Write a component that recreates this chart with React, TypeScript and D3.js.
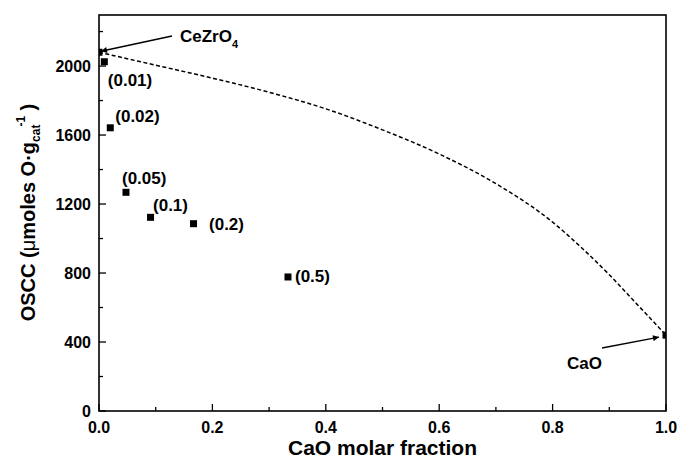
import React from "react";
import * as d3 from "d3";

// Samples: CaO content label, CaO molar fraction (x), OSCC (y)
const sampleLabels = ["(0.01)", "(0.02)", "(0.05)", "(0.1)", "(0.2)", "(0.5)"];
const sampleX = [0.0094, 0.0199, 0.0476, 0.0909, 0.1667, 0.3333];
const sampleY = [2025, 1642, 1268, 1123, 1086, 777];

// End members
const endLabels = ["CeZrO4", "CaO"];
const endX = [0, 1.0];
const endY = [2080, 440];

// Dashed curve
const curveX = [0, 0.1, 0.2, 0.3, 0.4, 0.5, 0.6, 0.7, 0.8, 0.85, 0.9, 0.95, 1.0];
const curveY = [2080, 2005, 1930, 1848, 1752, 1630, 1490, 1318, 1095, 950, 790, 615, 440];

const xTicks = [0, 0.2, 0.4, 0.6, 0.8, 1.0];
const xMinor = [0.1, 0.3, 0.5, 0.7, 0.9];
const yTicks = [0, 400, 800, 1200, 1600, 2000];
const yMinor = [200, 600, 1000, 1400, 1800, 2200];

const W = 680, H = 462;
const M = { left: 99, right: 666, top: 15, bottom: 411 };
const FONT = "'Liberation Sans', Arial, Helvetica, sans-serif";

// label offsets in px relative to data point
const labelOffsets: [number, number][] = [
  [3.5, 24], [5, -5.5], [-4, -8], [2.5, -6], [15.5, 6.5], [7, 5],
];

export default function App() {
  const x = d3.scaleLinear().domain([0, 1]).range([M.left, M.right]);
  const y = d3.scaleLinear().domain([0, 2296]).range([M.bottom, M.top]);
  const line = d3
    .line<number>()
    .x((_, i) => x(curveX[i]))
    .y((d) => y(d))
    .curve(d3.curveMonotoneX);
  const pathD = line(curveY) || "";
  const ms = 7;

  const ceX = x(endX[0]), ceY = y(endY[0]);
  const caX = x(endX[1]), caY = y(endY[1]);

  return (
    <svg
      width={W}
      height={H}
      style={{ position: "absolute", left: 0, top: 0, background: "#fff" }}
      fontFamily={FONT}
      fontWeight="bold"
    >
      <defs>
        <clipPath id="plotclip">
          <rect x={M.left} y={M.top} width={M.right - M.left} height={M.bottom - M.top} />
        </clipPath>
        <marker id="arrow" viewBox="0 0 10 10" refX="10" refY="5" markerWidth="9" markerHeight="6" orient="auto" markerUnits="userSpaceOnUse">
          <path d="M0,0 L10,5 L0,10 z" fill="#000" />
        </marker>
      </defs>
      <rect width={W} height={H} fill="#fff" />

      {/* dashed curve */}
      <path d={pathD} fill="none" stroke="#000" strokeWidth={1.5} strokeDasharray="4,2.5" />

      {/* markers */}
      <g clipPath="url(#plotclip)">
        {sampleX.map((v, i) => (
          <rect key={i} x={x(v) - ms / 2} y={y(sampleY[i]) - ms / 2} width={ms} height={ms} fill="#000" />
        ))}
        {endX.map((v, i) => (
          <rect key={"e" + i} x={x(v) - ms / 2} y={y(endY[i]) - ms / 2} width={ms} height={ms} fill="#000" />
        ))}
      </g>

      {/* frame */}
      <rect x={M.left} y={M.top} width={M.right - M.left} height={M.bottom - M.top} fill="none" stroke="#000" strokeWidth={1.6} />

      {/* x ticks */}
      {xTicks.map((t) => (
        <g key={"xt" + t}>
          <line x1={x(t)} x2={x(t)} y1={M.bottom} y2={M.bottom - 7} stroke="#000" strokeWidth={1.3} />
          <text x={x(t)} y={433} fontSize={16} textAnchor="middle">{t.toFixed(1)}</text>
        </g>
      ))}
      {xMinor.map((t) => (
        <line key={"xm" + t} x1={x(t)} x2={x(t)} y1={M.bottom} y2={M.bottom - 4} stroke="#000" strokeWidth={1.3} />
      ))}

      {/* y ticks */}
      {yTicks.map((t) => (
        <g key={"yt" + t}>
          <line x1={M.left} x2={M.left + 7} y1={y(t)} y2={y(t)} stroke="#000" strokeWidth={1.3} />
          <text x={91} y={y(t)} dy="0.36em" fontSize={16} textAnchor="end">{t}</text>
        </g>
      ))}
      {yMinor.map((t) => (
        <line key={"ym" + t} x1={M.left} x2={M.left + 4} y1={y(t)} y2={y(t)} stroke="#000" strokeWidth={1.3} />
      ))}

      {/* axis titles */}
      <text x={(M.left + M.right) / 2} y={455} fontSize={21} textAnchor="middle">CaO molar fraction</text>
      <text transform="translate(35,212.5) rotate(-90)" fontSize={20} textAnchor="middle">
        OSCC (<tspan fontWeight="normal">μ</tspan>moles O·g<tspan fontSize={12} dy={5}>cat</tspan>
        <tspan fontSize={12} dy={-15} dx={-2}>-1</tspan>
        <tspan dy={10}> )</tspan>
      </text>

      {/* sample labels */}
      {sampleLabels.map((l, i) => (
        <text key={"l" + i} x={x(sampleX[i]) + labelOffsets[i][0]} y={y(sampleY[i]) + labelOffsets[i][1]} fontSize={17}>
          {l}
        </text>
      ))}

      {/* CeZrO4 annotation */}
      <line x1={172} y1={36} x2={ceX + 2} y2={ceY - 1} stroke="#000" strokeWidth={1.4} markerEnd="url(#arrow)" />
      <text x={180} y={42} fontSize={17}>
        CeZrO<tspan fontSize={11} dy={6}>4</tspan>
      </text>

      {/* CaO annotation */}
      <line x1={602} y1={348} x2={caX - 7} y2={caY + 2} stroke="#000" strokeWidth={1.4} markerEnd="url(#arrow)" />
      <text x={567} y={369} fontSize={17}>{endLabels[1]}</text>
    </svg>
  );
}
